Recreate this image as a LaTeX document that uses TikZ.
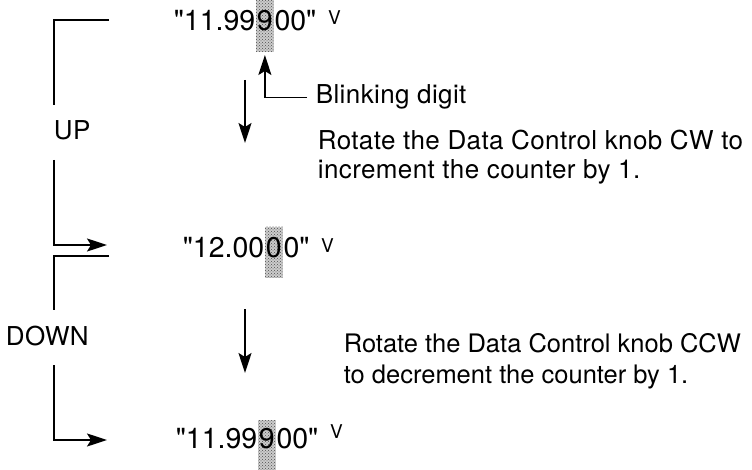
\documentclass[tikz,border=0pt]{standalone}
\usepackage{fontspec}
\setmainfont{TeX Gyre Heros}
\newfontfamily\dispfont{TeX Gyre Heros}[Ligatures=TeXOff]
\newfontfamily\lblfont{TeX Gyre Heros}[LetterSpace=1.5]
\usetikzlibrary{arrows.meta,backgrounds,calc,patterns}
\begin{document}
\begin{tikzpicture}[x=1pt,y=-1pt,
  line width=1.7pt,
  txt/.style={font=\lblfont\fontsize{26}{30}\selectfont, inner sep=0pt, anchor=base west},
  txtb/.style={font=\fontsize{25.5}{30}\selectfont, inner sep=0pt, anchor=base west},
  disp/.style={font=\dispfont\fontsize{28.5}{32}\selectfont, inner sep=0pt, anchor=base west},
  unit/.style={font=\fontsize{19}{22}\selectfont, inner sep=0pt, anchor=base west},
  hl/.style={fill=gray!40, draw=none},
  hldots/.style={pattern=crosshatch dots, pattern color=black!70},
  arr/.style={-{Stealth[length=20pt,width=13pt,inset=4pt]}},
]
\useasboundingbox (0,0) rectangle (752,470);

% ---- display 1
\node[disp] (a1) at (173,31) {"11.99};
\node[disp] (b1) at (a1.base east) {9};
\node[disp] (c1) at (b1.base east) {00"};
\node[unit] (v1) at ($(c1.base east)+(10,-6)$) {V};

% ---- display 2
\node[disp] (a2) at (182,258) {"12.00};
\node[disp] (b2) at (a2.base east) {0};
\node[disp] (c2) at (b2.base east) {0"};
\node[unit] (v2) at ($(c2.base east)+(10,-5)$) {V};

% ---- display 3
\node[disp] (a3) at (175,448) {"11.99};
\node[disp] (b3) at (a3.base east) {9};
\node[disp] (c3) at (b3.base east) {00"};
\node[unit] (v3) at ($(c3.base east)+(10,-10)$) {V};

\begin{scope}[on background layer]
  \foreach \b/\t/\u in {b1/31/21, b2/31/20, b3/28/22} {
    \fill[hl] ([yshift=\t pt]\b.base west) rectangle ([yshift=-\u pt]\b.base east);
    \fill[hldots] ([yshift=\t pt]\b.base west) rectangle ([yshift=-\u pt]\b.base east);
  }
\end{scope}

% ---- labels
\node[txt, inner xsep=8pt] (blink) at (307,104) {Blinking digit};
\node[txt] (cw1) at (317,150) {Rotate the Data Control knob CW to};
\node[txt] (cw2) at (317,179) {increment the counter by 1.};
\node[txtb] (ccw1) at (343,352) {Rotate the Data Control knob CCW};
\node[txtb] (ccw2) at (343,383) {to decrement the counter by 1.};
\node[txt] (up) at (53,140) {UP};
\node[txt] (down) at (5,345) {DOWN};

% ---- blinking digit pointer
\draw[arr] (blink.west) -| ([yshift=-24pt]b1.base);

% ---- step arrows
\coordinate (s1a) at (245,80);
\coordinate (s1b) at (245,143);
\coordinate (s2a) at (245,309);
\coordinate (s2b) at (245,373);
\draw[arr] (s1a) -- (s1b);
\draw[arr] (s2a) -- (s2b);

% ---- UP bracket
\coordinate (u1) at (109,20);
\coordinate (u2) at (54,105);
\coordinate (u3) at (54,160);
\coordinate (u4) at (107,245);
\draw (u1) -| (u2);
\draw[arr] (u3) |- (u4);

% ---- DOWN bracket
\coordinate (d1) at (109,256);
\coordinate (d2) at (54,310);
\coordinate (d3) at (54,365);
\coordinate (d4) at (107,440);
\draw (d1) -| (d2);
\draw[arr] (d3) |- (d4);
\end{tikzpicture}
\end{document}
